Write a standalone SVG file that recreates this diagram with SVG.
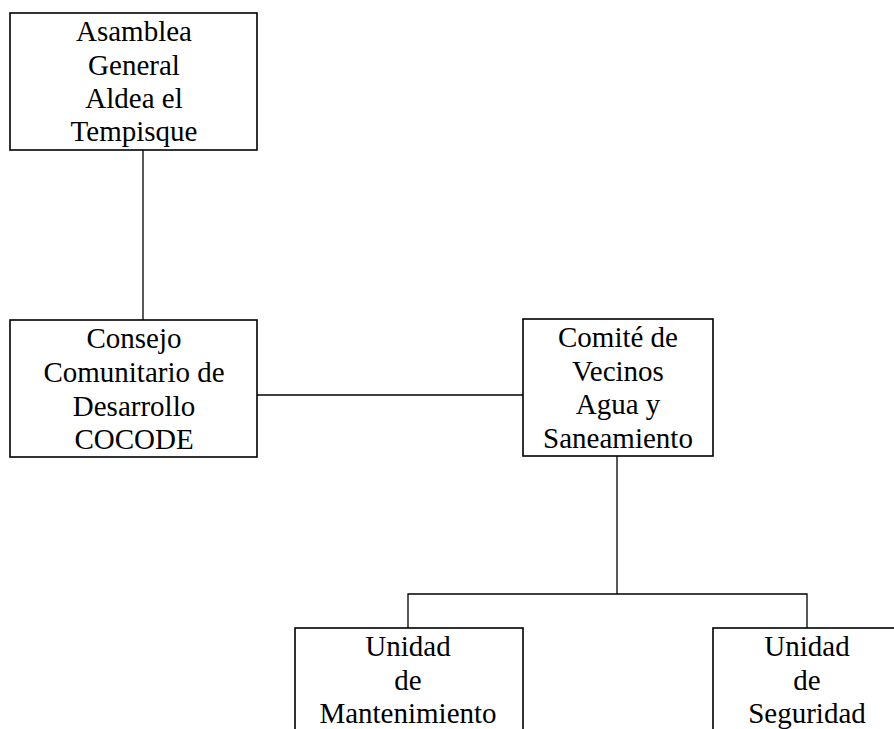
<svg xmlns="http://www.w3.org/2000/svg" width="894" height="729" viewBox="0 0 894 729">
<style>
.box{fill:#fff;stroke:#000;stroke-width:1.6}
.t{font-family:'Liberation Serif','DejaVu Serif',serif;font-size:29px;fill:#000;text-anchor:middle}
.c{stroke:#000;stroke-width:1.3;fill:none}
</style>
<rect width="894" height="729" fill="#fff"/>
<g id="connectors">
<line class="c" x1="143" y1="150" x2="143" y2="320"/>
<line class="c" x1="257" y1="395" x2="523" y2="395"/>
<line class="c" x1="617" y1="456" x2="617" y2="594"/>
<polyline class="c" points="408,628 408,594 807,594 807,628"/>
</g>
<g id="asamblea">
<rect class="box" x="10" y="13" width="247" height="137"/>
<text class="t" x="134" y="41">Asamblea</text>
<text class="t" x="134" y="75">General</text>
<text class="t" x="134" y="108">Aldea el</text>
<text class="t" x="134" y="141">Tempisque</text>
</g>
<g id="cocode">
<rect class="box" x="10" y="320" width="247" height="137"/>
<text class="t" x="134" y="348">Consejo</text>
<text class="t" x="134" y="382">Comunitario de</text>
<text class="t" x="134" y="416">Desarrollo</text>
<text class="t" x="134" y="449">COCODE</text>
</g>
<g id="comite">
<rect class="box" x="523" y="319" width="190" height="137"/>
<text class="t" x="618" y="347">Comité de</text>
<text class="t" x="618" y="381">Vecinos</text>
<text class="t" x="618" y="414">Agua y</text>
<text class="t" x="618" y="448">Saneamiento</text>
</g>
<g id="mantenimiento">
<rect class="box" x="295" y="628" width="228" height="120"/>
<text class="t" x="408" y="656">Unidad</text>
<text class="t" x="408" y="690">de</text>
<text class="t" x="408" y="723">Mantenimiento</text>
</g>
<g id="seguridad">
<rect class="box" x="713" y="628" width="200" height="120"/>
<text class="t" x="807" y="656">Unidad</text>
<text class="t" x="807" y="690">de</text>
<text class="t" x="807" y="723">Seguridad</text>
</g>
</svg>
